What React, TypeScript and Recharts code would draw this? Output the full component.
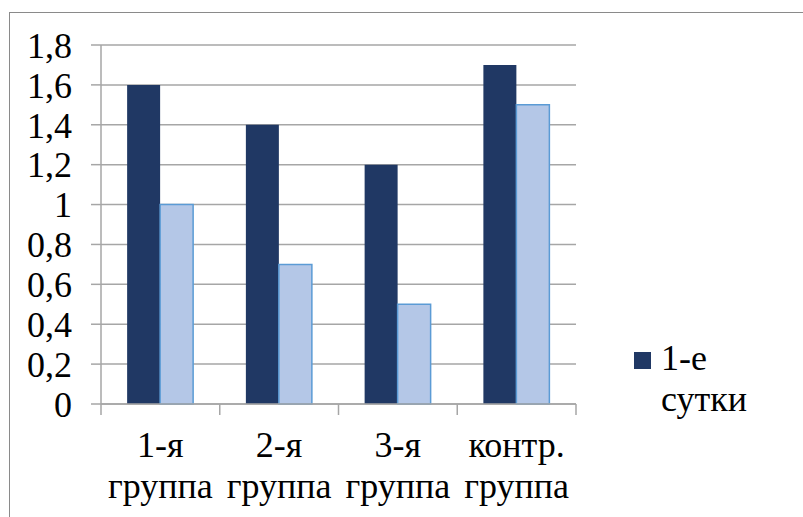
import React from 'react';
import { BarChart, Bar, XAxis, YAxis, CartesianGrid, Legend } from 'recharts';

const categories = ['1-я группа', '2-я группа', '3-я группа', 'контр. группа'];
const day1Values = [1.6, 1.4, 1.2, 1.7];
const day2Values = [1.0, 0.7, 0.5, 1.5];
const yTicks = [0, 0.2, 0.4, 0.6, 0.8, 1, 1.2, 1.4, 1.6, 1.8];
const seriesNames = ['1-е сутки', '2-е сутки'];

const data = categories.map((c, i) => ({ name: c, d1: day1Values[i], d2: day2Values[i] }));

const FONT = 'Liberation Serif, Tinos, Times New Roman, DejaVu Serif, serif';
const GRID = '#a6a6a6';

const XTick = (props: any) => {
  const { x, y, payload, index, width, visibleTicksCount } = props;
  const half = payload && payload.offset != null ? payload.offset : width / (2 * visibleTicksCount);
  const lines = String(payload.value).split(' ');
  return (
    <g>
      {index === 0 && <line x1={x - half} x2={x - half} y1={y} y2={y + 11} stroke={GRID} strokeWidth={1.5} />}
      <line x1={x + half} x2={x + half} y1={y} y2={y + 11} stroke={GRID} strokeWidth={1.5} />
      <text x={x} y={y + 53} textAnchor="middle" style={{ fontSize: 36, fontFamily: FONT }} fill="#000">
        {lines[0]}
      </text>
      <text x={x} y={y + 94} textAnchor="middle" style={{ fontSize: 36, fontFamily: FONT }} fill="#000">
        {lines.slice(1).join(' ')}
      </text>
    </g>
  );
};

const LegendContent = (props: any) => {
  const items = (props.payload || []).filter((p: any) => p.type !== 'none');
  return (
    <div>
      {items.map((p: any) => (
        <div key={p.value} style={{ display: 'flex', alignItems: 'flex-start' }}>
          <div style={{ width: 17, height: 17, background: p.color, marginTop: 14, marginRight: 10, flex: 'none' }} />
          <div style={{ fontSize: 36, lineHeight: '41px', fontFamily: FONT, color: '#000', width: 120 }}>{p.value}</div>
        </div>
      ))}
    </div>
  );
};

export default function App() {
  return (
    <div style={{ position: 'absolute', left: 0, top: 0, width: 803, height: 517, background: '#fff', fontFamily: FONT }}>
      <div
        style={{
          position: 'absolute',
          left: 9,
          top: 12,
          width: 794,
          height: 505,
          borderTop: '1px solid #8a8a8a',
          borderLeft: '1px solid #8a8a8a',
          boxSizing: 'border-box',
        }}
      />
      <div style={{ position: 'absolute', left: 0, top: 0 }}>
        <BarChart
          width={803}
          height={517}
          data={data}
          margin={{ top: 45, right: 227, bottom: 0, left: 0 }}
          barGap={0}
          barCategoryGap="22%"
          style={{ fontFamily: FONT }}
        >
          <CartesianGrid vertical={false} stroke={GRID} strokeWidth={1.5} />
          <XAxis
            dataKey="name"
            height={113}
            tickLine={false}
            tickSize={0}
            tickMargin={0}
            axisLine={{ stroke: GRID, strokeWidth: 1.5 }}
            tick={<XTick />}
            interval={0}
          />
          <YAxis
            width={101}
            domain={[0, 1.8]}
            ticks={yTicks}
            interval={0}
            tickSize={10}
            tickMargin={19}
            tickLine={{ stroke: GRID, strokeWidth: 1.5 }}
            axisLine={{ stroke: GRID, strokeWidth: 1.5 }}
            tick={{ fontSize: 36, fill: '#000', style: { fontFamily: FONT } }}
            tickFormatter={(v: number) => String(v).replace('.', ',')}
          />
          <Legend
            layout="horizontal"
            verticalAlign="middle"
            align="center"
            content={<LegendContent />}
            wrapperStyle={{ left: 634, top: 338, width: 160 }}
          />
          <Bar dataKey="d1" name={seriesNames[0]} fill="#203864" isAnimationActive={false} />
          <Bar
            dataKey="d2"
            name={seriesNames[1]}
            fill="#b4c7e7"
            stroke="#5b9bd5"
            strokeWidth={1.5}
            legendType="none"
            isAnimationActive={false}
          />
        </BarChart>
      </div>
    </div>
  );
}
